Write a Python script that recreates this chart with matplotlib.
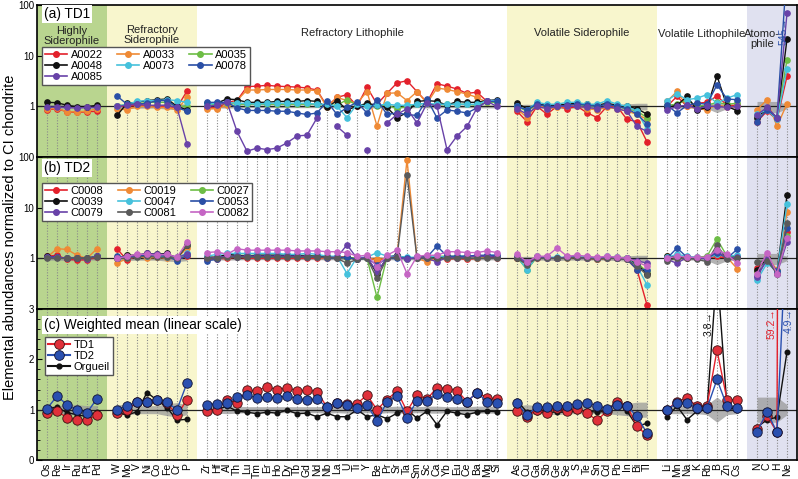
import numpy as np
import matplotlib.pyplot as plt
from matplotlib.lines import Line2D
from matplotlib.ticker import MultipleLocator, NullLocator, FixedLocator

plt.rcParams['font.family'] = ['Liberation Sans', 'DejaVu Sans']

nan = np.nan

# element groups (order along x axis)
hs = ['Os', 'Re', 'Ir', 'Ru', 'Pt', 'Pd']
rs = ['W', 'Mo', 'V', 'Ni', 'Co', 'Fe', 'Cr', 'P']
rl = ['Zr', 'Hf', 'Al', 'Th', 'Lu', 'Tm', 'Er', 'Ho', 'Dy', 'Tb', 'Gd', 'Nd', 'Nb', 'La', 'U',
      'Ti', 'Y', 'Be', 'Pr', 'Sr', 'Ta', 'Sm', 'Sc', 'Ca', 'Yb', 'Eu', 'Ce', 'Ba', 'Mg', 'Si']
vs = ['As', 'Cu', 'Ga', 'Sb', 'Ge', 'Se', 'S', 'Te', 'Sn', 'Cd', 'Pb', 'In', 'Bi', 'Tl']
vl = ['Li', 'Mn', 'Na', 'K', 'Rb', 'B', 'Zn', 'Cs']
at = ['N', 'C', 'H', 'Ne']
element_groups = [hs, rs, rl, vs, vl, at]
group_names = ['Highly\nSiderophile', 'Refractory\nSiderophile', 'Refractory Lithophile',
               'Volatile Siderophile', 'Volatile Lithophile', 'Atomo-\nphile']
group_bg = ['#b9d58f', '#f8f6cd', 'white', '#f8f6cd', 'white', '#e0e1f0']

# (a) TD1 samples, CI normalised
a0022 = ([0.85, 0.90, 0.78, 0.76, 0.78, 0.80] +
         [1.00, 1.00, 1.05, 1.05, 1.00, 1.00, 0.95, 2.00] +
         [0.95, 0.92, 1.20, 1.30, 2.45, 2.50, 2.60, 2.50, 2.45, 2.40, 2.30, 2.10, 1.00, 1.50, 1.70,
          1.00, 2.40, 1.10, 1.80, 2.90, 3.20, 1.95, 1.20, 2.80, 2.50, 2.20, 1.80, 1.90, 1.25, 1.25] +
         [0.80, 0.50, 1.00, 0.70, 1.00, 0.90, 1.00, 0.75, 0.60, 1.00, 1.00, 0.55, 0.50, 0.20] +
         [1.00, 1.57, 1.00, 1.15, 1.20, 1.60, 1.05, 1.05] +
         [0.50, 0.80, 0.55, 3.90])
a0033 = ([0.88, 0.92, 0.78, 0.78, 0.80, 0.90] +
         [0.90, 0.85, 1.00, 1.00, 0.95, 0.95, 0.85, 1.50] +
         [0.88, 0.90, 1.05, 1.30, 2.10, 2.10, 2.15, 2.15, 2.15, 2.10, 2.10, 2.05, 0.95, 1.50, 1.30,
          1.15, 1.95, 0.41, 1.80, 1.85, 1.30, 1.95, 1.15, 2.30, 2.15, 1.95, 1.75, 1.50, 1.20, 1.20] +
         [0.90, 0.60, 1.10, 0.90, 0.95, 1.00, 1.05, 0.90, 0.85, 0.95, 0.90, 0.80, 0.70, 0.55] +
         [1.25, 1.97, 1.00, 0.90, 0.85, 1.10, 0.95, 1.00] +
         [0.85, 1.35, 0.40, 1.13])
a0035 = ([nan, nan, nan, nan, nan, nan] +
         [1.00, 1.10, 1.10, 1.20, 1.20, 1.20, 1.00, 1.00] +
         [1.05, 1.10, 1.15, 1.10, 1.10, 1.10, 1.10, 1.10, 1.10, 1.10, 1.10, 1.10, 1.05, 1.05, 1.35,
          1.05, 1.10, 1.00, 1.05, 0.90, 1.00, 1.10, 1.15, 1.05, 1.10, 1.10, 1.10, 1.05, 1.20, 1.20] +
         [1.00, 0.80, 1.10, 1.00, 1.00, 1.10, 1.10, 1.00, 1.00, 1.10, 1.00, 0.90, 0.80, 0.60] +
         [1.05, 1.10, 1.35, 1.00, 1.05, 1.20, 1.10, 1.15] +
         [0.65, 0.90, 0.60, 8.20])
a0048 = ([1.20, 1.18, 1.05, 0.98, 0.98, 1.05] +
         [0.66, 1.15, 1.20, 1.30, 1.35, 1.40, 1.00, 0.85] +
         [1.16, 1.16, 1.40, 1.35, 1.20, 1.20, 1.20, 1.25, 1.25, 1.25, 1.30, 1.25, 0.95, 1.30, 0.85,
          1.00, 1.15, 1.05, 0.95, 0.60, 0.75, 1.25, 1.30, 1.25, 1.05, 1.25, 1.20, 1.20, 1.30, 1.35] +
         [1.15, 0.90, 1.10, 1.05, 1.05, 1.10, 1.15, 1.10, 1.05, 1.15, 1.05, 1.00, 0.90, 0.70] +
         [0.95, 1.05, 1.57, 0.85, 0.95, 4.00, 1.00, 0.82] +
         [0.60, 0.90, 0.60, 21.0])
a0073 = ([nan, nan, nan, nan, nan, nan] +
         [1.00, 1.10, 1.25, 1.30, 1.30, 1.35, 1.30, 1.20] +
         [1.10, 1.15, 1.20, 1.15, 1.15, 1.10, 1.15, 1.15, 1.15, 1.15, 1.15, 1.10, 1.10, 1.00, 0.60,
          1.10, 1.00, 1.05, 1.10, 1.05, 1.05, 1.10, 1.15, 1.10, 1.10, 1.10, 1.10, 1.10, 1.30, 1.30] +
         [1.00, 0.85, 1.20, 1.10, 1.10, 1.20, 1.20, 1.10, 1.10, 1.30, 1.10, 1.00, 0.80, 0.35] +
         [1.30, 1.77, 1.35, 1.45, 1.70, 1.15, 1.45, 1.70] +
         [0.70, 0.85, 0.55, 5.50])
a0078 = ([nan, nan, nan, nan, nan, nan] +
         [1.60, 1.10, 1.10, 1.15, 1.30, 1.30, 0.95, 0.80] +
         [1.20, 1.20, 1.20, 0.93, 0.83, 0.83, 0.83, 0.80, 0.80, 0.74, 0.69, 0.74, 1.25, 0.69, 0.95,
          1.20, 0.74, 1.35, 0.69, 0.74, 0.69, 0.66, 1.40, 0.59, 0.85, 0.80, 0.74, 0.93, 1.25, 1.25] +
         [1.00, 0.85, 1.10, 1.00, 1.00, 1.05, 1.10, 1.05, 1.00, 1.10, 1.00, 0.90, 0.70, 0.45] +
         [1.05, 0.74, 1.05, 1.15, 1.10, 2.66, 1.40, 1.35] +
         [0.50, 0.86, 0.60, 545.0])
a0085 = ([0.95, 0.97, 0.95, 0.93, 0.95, 0.95] +
         [1.00, 1.05, 1.10, 1.05, 1.05, 1.05, 0.95, 0.18] +
         [1.00, 1.05, 1.20, 0.32, 0.13, 0.15, 0.14, 0.15, 0.19, 0.26, 0.27, 0.59, nan, 0.40, 0.27,
          nan, 0.14, nan, 0.47, 0.69, 0.90, 0.47, 1.15, 1.00, 0.14, 0.26, 0.40, 0.93, 1.25, 1.00] +
         [0.90, 0.70, 1.00, 0.90, 1.00, 1.00, 1.00, 0.95, 0.90, 1.00, 0.90, 0.80, 0.40, 0.32] +
         [0.85, 1.00, 1.05, 0.90, 1.00, 1.00, 0.95, 1.00] +
         [0.68, 0.95, 0.60, 68.0])

# (b) TD2 samples
c0008 = ([1.10, 1.15, 0.95, 0.93, 0.93, 1.05] +
         [1.55, 0.92, 1.10, 1.10, 1.10, 1.10, 0.95, 1.10] +
         [0.95, 0.98, 1.00, 1.05, 1.00, 1.00, 1.00, 1.00, 1.00, 1.00, 1.00, 1.00, 1.00, 1.05, 1.05,
          0.95, 1.05, 0.90, 1.00, 1.05, 1.00, 1.00, 1.00, 1.05, 0.95, 1.00, 0.95, 1.00, 1.05, 1.00] +
         [1.00, 0.80, 1.00, 1.05, 1.00, 1.05, 1.05, 1.00, 0.95, 1.00, 1.00, 0.95, 0.60, 0.12] +
         [1.00, 1.10, 1.00, 1.00, 1.00, 1.10, 1.00, 1.05] +
         [0.65, 0.93, 0.55, 3.30])
c0019 = ([1.05, 1.55, 1.50, 1.15, 1.00, 1.55] +
         [0.80, 1.00, 1.10, 1.00, 1.05, 1.00, 1.00, 1.60] +
         [1.00, 1.00, 1.05, 1.10, 1.10, 1.10, 1.10, 1.10, 1.10, 1.10, 1.10, 1.05, 1.00, 1.00, 1.05,
          1.00, 1.00, 0.95, 1.00, 1.10, 88.0, 1.00, 0.85, 1.00, 1.00, 1.05, 1.00, 1.00, 1.10, 1.05] +
         [1.00, 0.75, 1.10, 1.00, 1.00, 1.00, 1.05, 1.00, 0.95, 1.00, 1.00, 0.95, 0.85, 0.50] +
         [1.10, 1.00, 1.05, 1.00, 1.05, 1.20, 1.05, 0.63] +
         [0.55, 1.05, 0.60, 8.10])
c0027 = ([nan, nan, nan, nan, nan, nan] +
         [1.00, 1.15, 1.10, 1.15, 1.20, 1.15, 1.00, 1.20] +
         [1.05, 1.05, 1.10, 1.15, 1.15, 1.15, 1.15, 1.15, 1.15, 1.15, 1.15, 1.10, 1.05, 1.05, 1.00,
          1.05, 1.00, 0.17, 1.05, 1.10, 0.95, 1.05, 1.05, 1.10, 1.10, 1.10, 1.10, 1.05, 1.10, 1.10] +
         [1.05, 0.60, 1.05, 1.05, 1.00, 1.05, 1.10, 1.05, 1.00, 1.05, 1.05, 1.00, 0.80, 0.55] +
         [1.05, 1.05, 1.05, 1.05, 1.10, 2.40, 1.10, 1.10] +
         [0.55, 1.00, 0.55, 2.80])
c0039 = ([1.10, 1.05, 1.00, 1.00, 1.00, 1.10] +
         [1.00, 1.15, 1.15, 1.25, 1.20, 1.25, 1.00, 1.80] +
         [1.05, 1.05, 1.20, 1.15, 1.10, 1.15, 1.15, 1.15, 1.15, 1.15, 1.10, 1.10, 1.10, 1.05, 1.05,
          0.95, 1.05, 0.50, 1.05, 1.15, 1.00, 1.05, 1.10, 1.00, 1.10, 1.05, 1.10, 1.10, 1.10, 1.05] +
         [1.00, 0.80, 1.05, 1.05, 1.00, 1.05, 1.05, 1.05, 1.00, 1.05, 1.00, 1.00, 0.75, 0.50] +
         [1.10, 1.05, 1.00, 1.00, 1.00, 1.30, 1.05, 1.05] +
         [0.60, 1.00, 0.55, 17.5])
c0047 = ([nan, nan, nan, nan, nan, nan] +
         [1.00, 1.05, 1.10, 1.10, 1.10, 1.05, 1.00, 1.30] +
         [1.10, 1.20, 1.25, 1.25, 1.25, 1.25, 1.25, 1.25, 1.20, 1.20, 1.25, 1.20, 1.10, 1.10, 0.50,
          1.05, 1.05, 1.30, 1.10, 1.10, 1.05, 1.05, 1.05, 1.10, 1.05, 1.10, 1.10, 1.10, 1.15, 1.15] +
         [1.10, 0.60, 1.10, 1.05, 1.05, 1.05, 1.10, 1.05, 1.00, 1.10, 1.05, 1.00, 0.70, 0.30] +
         [1.05, 1.20, 1.10, 1.05, 1.00, 1.20, 1.10, 1.15] +
         [0.37, 0.80, 0.55, 11.6])
c0053 = ([1.05, 1.05, 1.00, 1.00, 1.00, 1.10] +
         [1.10, 1.05, 1.10, 1.15, 1.15, 1.10, 0.90, 1.15] +
         [0.90, 0.95, 1.10, 1.05, 1.10, 1.10, 1.10, 1.10, 1.10, 1.10, 1.05, 1.10, 1.00, 1.00, 1.05,
          0.95, 1.00, 0.75, 1.00, 1.00, 1.00, 1.00, 1.05, 1.75, 1.10, 1.10, 1.10, 1.15, 1.15, 1.15] +
         [1.05, 0.85, 1.05, 1.00, 1.00, 1.05, 1.05, 1.00, 1.00, 1.00, 1.00, 0.95, 0.60, 0.60] +
         [1.00, 1.60, 1.05, 1.00, 1.00, 1.30, 1.00, 1.50] +
         [0.45, 0.95, 0.55, 4.00])
c0079 = ([1.08, 1.05, 1.00, 1.00, 0.98, 1.12] +
         [1.00, 1.05, 1.15, 1.25, 1.20, 1.20, 1.05, 1.20] +
         [1.00, 1.05, 1.10, 1.10, 1.10, 1.10, 1.10, 1.10, 1.10, 1.10, 1.10, 1.05, 1.05, 1.05, 1.85,
          1.00, 1.05, 0.54, 1.00, 1.10, 0.95, 1.05, 1.00, 0.85, 1.05, 1.00, 1.05, 1.10, 1.10, 1.05] +
         [1.05, 0.80, 1.05, 1.00, 1.00, 1.05, 1.05, 1.00, 1.00, 1.05, 1.00, 1.00, 0.90, 0.80] +
         [0.95, 0.80, 1.05, 1.00, 1.00, 1.40, 1.00, 1.05] +
         [0.43, 0.95, 0.50, 2.10])
c0081 = ([1.00, 1.00, 1.00, 1.00, 1.00, 1.05] +
         [1.00, 1.00, 1.05, 1.10, 1.05, 1.05, 1.00, 1.80] +
         [1.00, 1.00, 1.05, 1.05, 1.05, 1.05, 1.05, 1.05, 1.05, 1.05, 1.05, 1.05, 1.05, 1.00, 0.80,
          0.95, 1.00, 0.40, 1.00, 1.05, 45.0, 1.00, 1.00, 1.00, 1.00, 1.00, 1.00, 1.00, 1.00, 1.00] +
         [1.00, 0.75, 1.00, 1.00, 1.00, 1.00, 1.05, 1.00, 0.95, 1.00, 1.00, 0.95, 0.70, 0.47] +
         [0.90, 1.00, 1.00, 0.95, 0.86, 1.84, 0.95, 1.00] +
         [0.86, 0.90, 0.50, 5.00])
c0082 = ([nan, nan, nan, nan, nan, nan] +
         [1.00, 1.10, 1.20, 1.20, 1.15, 1.20, 1.05, 2.10] +
         [1.30, 1.35, 1.20, 1.55, 1.45, 1.45, 1.45, 1.45, 1.45, 1.40, 1.40, 1.40, 1.35, 1.35, 1.30,
          1.10, 1.15, 0.68, 1.15, 1.46, 0.50, 1.10, 1.15, 1.15, 1.35, 1.35, 1.30, 1.30, 1.40, 1.30] +
         [1.20, 0.85, 1.10, 1.10, 1.60, 1.10, 1.15, 1.10, 1.05, 1.10, 1.05, 1.00, 0.85, 0.70] +
         [1.00, 1.10, 1.05, 1.05, 1.05, 1.46, 1.20, 0.80] +
         [0.50, 1.30, 0.50, 2.50])

# (c) weighted means (linear scale)
td1 = ([0.94, 0.97, 0.84, 0.80, 0.80, 0.89] +
       [0.94, 1.00, 1.15, 1.15, 1.19, 1.13, 0.89, 1.20] +
       [0.98, 1.00, 1.20, 1.13, 1.39, 1.37, 1.46, 1.39, 1.44, 1.37, 1.39, 1.36, 1.05, 1.14, 1.12,
        1.12, 1.29, 1.00, 1.20, 1.37, 0.97, 1.29, 1.21, 1.44, 1.42, 1.38, 1.16, 1.34, 1.24, 1.21] +
       [0.97, 0.86, 1.00, 0.93, 1.03, 0.97, 1.01, 0.93, 0.79, 0.97, 1.16, 1.07, 0.67, 0.49] +
       [1.00, 1.16, 1.23, 1.07, 1.07, 2.18, 1.20, 1.20] +
       [0.62, 0.88, 0.55, 59.2])
td2 = ([1.02, 1.27, 1.10, 0.99, 0.94, 1.22] +
       [1.00, 1.07, 1.15, 1.15, 1.19, 1.15, 1.00, 1.53] +
       [1.10, 1.12, 1.13, 1.25, 1.29, 1.23, 1.25, 1.23, 1.28, 1.21, 1.20, 1.21, 1.05, 1.14, 1.10,
        1.03, 1.10, 0.77, 1.16, 1.27, 0.84, 1.18, 1.18, 1.31, 1.25, 1.21, 1.16, 1.34, 1.16, 1.14] +
       [1.13, 0.90, 1.05, 1.05, 1.07, 1.08, 1.12, 1.14, 1.07, 1.02, 1.10, 1.07, 0.87, 0.53] +
       [1.00, 1.13, 1.13, 1.03, 1.03, 1.60, 1.07, 1.03] +
       [0.55, 0.96, 0.55, 4.90])
orgueil = ([1.02, 1.05, 0.94, 0.90, 0.86, 0.96] +
           [0.95, 0.89, 0.96, 1.34, 1.19, 1.04, 0.79, 0.81] +
           [1.00, 1.00, 1.07, 0.97, 0.95, 0.92, 0.95, 0.93, 0.99, 0.92, 0.93, 0.86, 0.93, 0.86, 0.86,
            1.00, 0.86, 0.90, 0.82, 0.93, 1.00, 0.83, 0.97, 0.70, 0.97, 0.93, 0.90, 0.95, 0.97, 0.96] +
           [1.18, 0.95, 0.95, 0.95, 0.95, 0.95, 0.97, 0.97, 0.95, 0.97, 1.18, 0.97, 0.67, 0.73] +
           [0.86, 1.07, 0.80, 0.97, 1.00, 3.80, 1.05, 1.00] +
           [0.65, 0.80, 0.85, 2.15])
# CI chondrite uncertainty (half width of grey band)
ci_err = ([0.08, 0.08, 0.10, 0.10, 0.08, 0.08] +
          [0.10, 0.10, 0.08, 0.08, 0.08, 0.12, 0.14, 0.10] +
          [0.07, 0.07, 0.08, 0.07, 0.06, 0.06, 0.06, 0.06, 0.06, 0.06, 0.06, 0.06, 0.07, 0.06, 0.07,
           0.07, 0.06, 0.08, 0.06, 0.07, 0.07, 0.06, 0.07, 0.07, 0.06, 0.06, 0.06, 0.07, 0.07, 0.07] +
          [0.08, 0.10, 0.08, 0.08, 0.10, 0.08, 0.08, 0.08, 0.08, 0.08, 0.10, 0.12, 0.15, 0.15] +
          [0.08, 0.08, 0.08, 0.08, 0.10, 0.25, 0.10, 0.08] +
          [0.25, 0.25, 0.25, 0.10])

td1_names = ['A0022', 'A0033', 'A0035', 'A0048', 'A0073', 'A0078', 'A0085']
td1_series = [a0022, a0033, a0035, a0048, a0073, a0078, a0085]
td1_colors = ['#e3202b', '#ef8a35', '#6dbd45', '#111111', '#45c1dc', '#2a4fa6', '#6842a8']
td2_names = ['C0008', 'C0019', 'C0027', 'C0039', 'C0047', 'C0053', 'C0079', 'C0081', 'C0082']
td2_series = [c0008, c0019, c0027, c0039, c0047, c0053, c0079, c0081, c0082]
td2_colors = ['#e3202b', '#ef8a35', '#6dbd45', '#111111', '#45c1dc', '#2a4fa6', '#6842a8',
              '#5a5a5a', '#c565c4']

# x positions, one empty slot between groups
elements, xpos, slices, spans = [], [], [], []
start = 0
for g in element_groups:
    elements += g
    xpos += list(range(start, start + len(g)))
    n0 = len(elements) - len(g)
    slices.append(slice(n0, n0 + len(g)))
    spans.append((start - 1, start + len(g)))
    start += len(g) + 1
xpos = np.array(xpos, float)
err = np.array(ci_err)

fig = plt.figure(figsize=(7.98, 4.79), dpi=100)
L, W = 37 / 798, 760 / 798
ax_a = fig.add_axes([L, 1 - 157 / 479, W, 152 / 479])
ax_b = fig.add_axes([L, 1 - 309 / 479, W, 152 / 479])
ax_c = fig.add_axes([L, 1 - 460 / 479, W, 151 / 479])

leg_kw = dict(fontsize=8, frameon=True, fancybox=False, edgecolor='#555555', framealpha=1,
              borderpad=0.25, labelspacing=0.1, handlelength=2.0, handletextpad=0.3,
              borderaxespad=0)


def base(ax, log):
    for (x0, x1), c in zip(spans, group_bg):
        ax.axvspan(x0, x1, color=c, lw=0, zorder=0)
    ax.set_xlim(-1, start - 1)
    for sl in slices:
        ax.fill_between(xpos[sl], 1 - err[sl], 1 + err[sl], color='#9a9a9a', alpha=0.75, lw=0, zorder=1)
    ax.axhline(1, color='#222222', lw=0.9, zorder=2)
    ax.set_xticks(xpos)
    ax.tick_params(axis='x', length=0, labelbottom=False)
    ax.tick_params(axis='y', direction='in', labelsize=7, length=3.5, width=0.8, pad=2)
    ax.tick_params(axis='y', which='minor', direction='in', length=2)
    for s in ax.spines.values():
        s.set_linewidth(1.2)
    if log:
        ax.set_yscale('log')
        ax.set_ylim(0.1, 100)
        ax.yaxis.set_major_locator(FixedLocator([1, 10, 100]))
        ax.set_yticklabels(['1', '10', '100'])
        ax.yaxis.set_minor_locator(NullLocator())


def log_panel(ax, series, colors, names, title, title_y, full_dots):
    base(ax, True)
    data = np.array(series, float)
    low = np.nanmin(data, axis=0)
    top = np.full_like(low, 100) if full_dots else low
    ax.vlines(xpos, 0.1, top, colors='#8a8a8a', linestyles=(0, (1, 1.5)), lw=0.8, zorder=1)
    handles = []
    for y, c, nm in zip(data, colors, names):
        for sl in slices:
            ax.plot(xpos[sl], y[sl], '-o', color=c, ms=3.8, lw=1.0, zorder=3)
        handles.append(Line2D([], [], color=c, marker='o', ms=4, lw=1.2, label=nm))
    ax.text(0.009, title_y, title, transform=ax.transAxes, ha='left', va='center', fontsize=9.8,
            bbox=dict(facecolor='white', edgecolor='none', pad=1.5), zorder=6)
    return handles


def col_order(h, ncol):
    rows = int(np.ceil(len(h) / ncol))
    return [h[r * ncol + c] for c in range(ncol) for r in range(rows) if r * ncol + c < len(h)]


# (a)
ha = log_panel(ax_a, td1_series, td1_colors, td1_names, '(a) TD1', 0.94, False)
ax_a.legend(handles=col_order(ha, 3), ncol=3, loc='upper left', bbox_to_anchor=(0.007, 0.725),
            columnspacing=1.3, **leg_kw).set_zorder(7)
label_x = [2.5, 10.5, 30.5, 53.5, 65.5, 71.5]
label_y = [0.795, 0.80, 0.815, 0.815, 0.81, 0.775]
for xx, nm, yy in zip(label_x, group_names, label_y):
    ax_a.text(xx, yy, nm, transform=ax_a.get_xaxis_transform(), ha='center',
              va='center', fontsize=8, color='#222222', linespacing=1.0, zorder=5)
ax_a.text(73.65, 30, '545\u2192', rotation=90, color=td1_colors[5], fontsize=7.5,
          ha='center', va='center', zorder=6)

# (b)
hb = log_panel(ax_b, td2_series, td2_colors, td2_names, '(b) TD2', 0.93, True)
ax_b.legend(handles=col_order(hb, 3), ncol=3, loc='upper left', bbox_to_anchor=(0.007, 0.83),
            columnspacing=1.3, **leg_kw).set_zorder(7)

# (c)
base(ax_c, False)
ax_c.set_ylim(0, 3)
ax_c.yaxis.set_major_locator(MultipleLocator(1))
ax_c.yaxis.set_minor_locator(MultipleLocator(0.2))
ax_c.vlines(xpos, 0, 3, colors='#8a8a8a', linestyles=(0, (1, 1.5)), lw=0.8, zorder=1)
og, t1, t2 = np.array(orgueil), np.array(td1), np.array(td2)
for sl in slices:
    ax_c.plot(xpos[sl], og[sl], '-o', color='#111111', ms=3.3, lw=1.0, zorder=3)
    ax_c.plot(xpos[sl], t1[sl], '-o', color='#e3202b', mfc='#e0303a', mec='#3a1010',
              mew=0.6, ms=6.8, lw=1.0, zorder=4)
    ax_c.plot(xpos[sl], t2[sl], '-o', color='#2a50b0', mfc='#2a50b0', mec='#101030',
              mew=0.6, ms=6.8, lw=1.0, zorder=5)
hc = [Line2D([], [], color='#e3202b', marker='o', mfc='#e0303a', mec='#3a1010', mew=0.6, ms=7,
             label='TD1'),
      Line2D([], [], color='#2a50b0', marker='o', mfc='#2a50b0', mec='#101030', mew=0.6, ms=7,
             label='TD2'),
      Line2D([], [], color='#111111', marker='o', ms=3.5, label='Orgueil')]
ax_c.legend(handles=hc, loc='upper left', bbox_to_anchor=(0.011, 0.815), **leg_kw).set_zorder(7)
ax_c.text(0.009, 0.893, '(c) Weighted mean (linear scale)', transform=ax_c.transAxes, ha='left',
          va='center', fontsize=9.8, bbox=dict(facecolor='white', edgecolor='none', pad=1.5),
          zorder=6)
ax_c.text(66.2, 2.72, '3.8\u2192', rotation=90, color='#111111', fontsize=7.5, ha='center',
          va='center', zorder=6)
ax_c.text(72.5, 2.7, '59.2\u2192', rotation=90, color='#e3202b', fontsize=7.5, ha='center',
          va='center', zorder=6)
ax_c.text(74.15, 2.78, '4.9\u2192', rotation=90, color='#2a50b0', fontsize=7.5, ha='center',
          va='center', zorder=6)
ax_c.set_xticks(xpos)
ax_c.set_xticklabels(elements, rotation=90, fontsize=7.5)
ax_c.tick_params(axis='x', labelbottom=True, pad=2)

fig.text(0.012, 0.505, 'Elemental abundances normalized to CI chondrite', rotation=90,
         ha='center', va='center', fontsize=10.5)

fig.savefig('out.png', dpi=100)
